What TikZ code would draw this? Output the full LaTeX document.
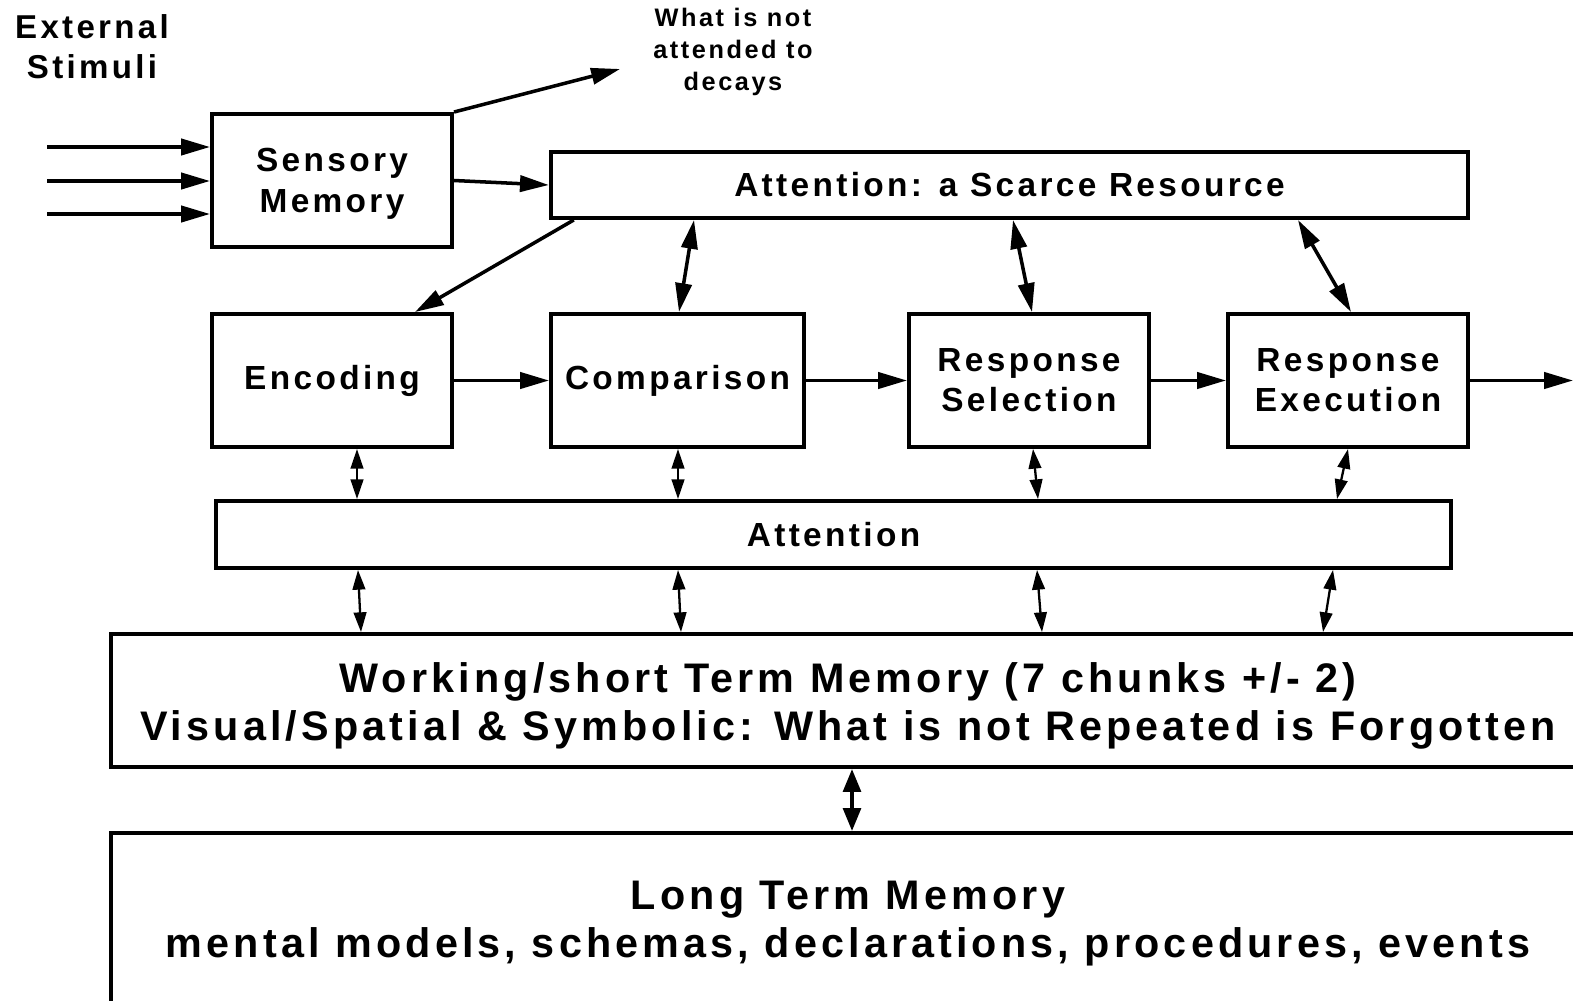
\documentclass[tikz,border=0pt]{standalone}
\usepackage{fontspec}
\setmainfont{Liberation Sans}[LetterSpace=10]
\usetikzlibrary{arrows.meta,calc}

\tikzset{
  blk/.style={draw, line width=1.1pt, inner sep=0pt, align=center, font=\bfseries\fontsize{9.5}{11.4}\selectfont},
  mem/.style={blk, minimum width=14.74cm, font=\bfseries\fontsize{11.75}{13.7}\selectfont},
  arr/.style={line width=1pt, -{Triangle[length=8.2pt,width=4.6pt]}},
  dbl/.style={line width=1pt, {Triangle[length=8.2pt,width=4.6pt]}-{Triangle[length=8.2pt,width=4.6pt]}},
  sdbl/.style={line width=0.65pt, {Triangle[length=5.6pt,width=3.6pt]}-{Triangle[length=5.6pt,width=3.6pt]}},
}

\begin{document}
\begin{tikzpicture}[x=0.01cm, y=-0.01cm]
  \useasboundingbox (0,0) rectangle (1573,1000);
  \clip (0,0) rectangle (1573,1000);

  % top row
  \node[align=center, font=\bfseries\fontsize{9.4}{11.4}\selectfont] (ext) at (92,47) {External\\Stimuli};
  \node[align=center, font=\bfseries\fontsize{7.2}{9}\selectfont] (decay) at (733,52) {What is not\\attended to\\decays};
  \node[blk, minimum width=2.4cm, minimum height=1.33cm] (sens) at (332,180.5) {\rule{0pt}{8.5pt}Sensory\\Memory};
  \node[blk, minimum width=9.17cm, minimum height=0.66cm] (scarce) at (1009.5,185) {Attention: a Scarce Resource};

  % processing stages
  \node[blk, minimum width=2.4cm, minimum height=1.33cm] (enc) at (332,380.5) {Encoding};
  \node[blk, minimum width=2.53cm, minimum height=1.33cm] (comp) at (677.5,380.5) {Comparison};
  \node[blk, minimum width=2.4cm, minimum height=1.33cm] (rsel) at (1029,380.5) {Response\\Selection};
  \node[blk, minimum width=2.4cm, minimum height=1.33cm] (rexe) at (1348,380.5) {Response\\Execution};

  \node[blk, minimum width=12.35cm, minimum height=0.67cm] (att) at (833.5,534.5) {Attention};

  % memories
  \node[mem, minimum height=1.33cm] (wm) at (848,700.5)
    {\rule{0pt}{11.5pt}Working/short Term Memory (7 chunks +/- 2)\\Visual/Spatial \& Symbolic: What is not Repeated is Forgotten};
  \node[mem, minimum height=1.7cm] (ltm) at (848,918)
    {\rule{0pt}{11.3pt}Long Term Memory\\mental models, schemas, declarations, procedures, events};

  % incoming stimuli
  \foreach \y in {147,181,214} {
    \coordinate (in) at (47,\y);
    \draw[arr] (in) -- (in -| sens.west);
  }
  \coordinate (lost) at (620,69);
  \draw[arr] (sens.north east) -- (lost);
  \draw[arr] (sens.east) -- (scarce.west);
  \draw[arr] ($(scarce.south west)+(25,0)$) -- ($(enc.north)+(83,0)$);

  \draw[dbl] (694,0 |- scarce.south) -- (679,0 |- comp.north);
  \draw[dbl] (1013,0 |- scarce.south) -- (1032,0 |- rsel.north);
  \draw[dbl] (1298,0 |- scarce.south) -- (1351,0 |- rexe.north);

  % stage to stage
  \coordinate (out) at (1573,380.5);
  \draw[arr] (enc) -- (comp);
  \draw[arr] (comp) -- (rsel);
  \draw[arr] (rsel) -- (rexe);
  \draw[arr] (rexe) -- (out);

  % stages <-> attention <-> working memory
  \draw[sdbl] (357,0 |- enc.south) -- (357,0 |- att.north);
  \draw[sdbl] (678,0 |- comp.south) -- (678,0 |- att.north);
  \draw[sdbl] (1033,0 |- rsel.south) -- (1038,0 |- att.north);
  \draw[sdbl] (1348,0 |- rexe.south) -- (1337,0 |- att.north);
  \draw[sdbl] (358,0 |- att.south) -- (361,0 |- wm.north);
  \draw[sdbl] (678,0 |- att.south) -- (681,0 |- wm.north);
  \draw[sdbl] (1037,0 |- att.south) -- (1042,0 |- wm.north);
  \draw[sdbl] (1333,0 |- att.south) -- (1323,0 |- wm.north);

  \draw[line width=1.1pt, {Triangle[length=6.5pt,width=5pt]}-{Triangle[length=6.5pt,width=5pt]}] (852,0 |- wm.south) -- (852,0 |- ltm.north);
\end{tikzpicture}
\end{document}
